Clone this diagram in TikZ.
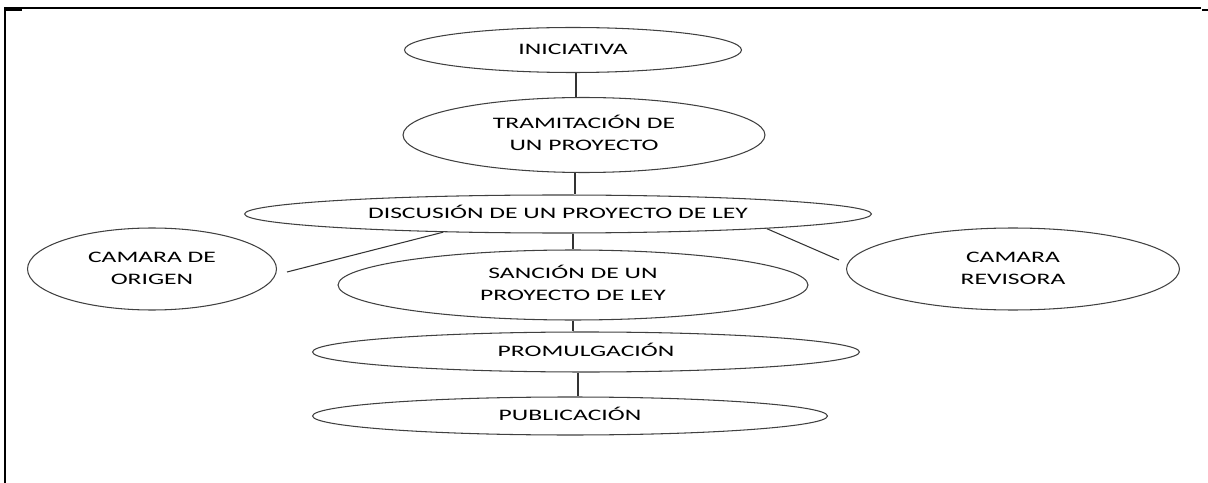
\documentclass[tikz,border=0pt]{standalone}
\usepackage{fontspec}
\usepackage{graphicx}
\setmainfont{Carlito}
\usetikzlibrary{shapes.geometric}

\newcommand{\lbl}[1]{\scalebox{1.6}[1]{\begin{tabular}{@{}c@{}}#1\end{tabular}}}

\begin{document}
\begin{tikzpicture}[x=0.02cm,y=-0.02cm,
  etapa/.style={ellipse,draw=black!75,line width=0.6pt,inner sep=0pt,
    font=\fontsize{9.1pt}{12.5pt}\selectfont},
  enlace/.style={draw=black!80,line width=0.6pt},
  marco/.style={line width=1.2pt}]

\useasboundingbox (0,0) rectangle (1208,483);

% marco de la celda
\draw[marco] (5,483) -- (5,8) -- (1201,8);
\draw[marco] (5,10) -- (22,10);
\draw[marco] (1202,10) -- (1208,10);

% etapas
\node[etapa,minimum width=6.74cm,minimum height=0.9cm] (inic) at (573,50) {\lbl{INICIATIVA}};
\node[etapa,minimum width=7.24cm,minimum height=1.5cm] (tram) at (584,135) {\lbl{TRAMITACIÓN DE\\UN PROYECTO}};
\node[etapa,minimum width=12.54cm,minimum height=0.76cm] (disc) at (558,214) {\lbl{DISCUSIÓN DE UN PROYECTO DE LEY}};
\node[etapa,minimum width=4.98cm,minimum height=1.64cm] (orig) at (152,269) {\lbl{CAMARA DE\\ORIGEN}};
\node[etapa,minimum width=6.66cm,minimum height=1.64cm] (revi) at (1013,269) {\lbl{CAMARA\\REVISORA}};
\node[etapa,minimum width=9.4cm,minimum height=1.4cm] (sanc) at (573,285) {\lbl{SANCIÓN DE UN\\PROYECTO DE LEY}};
\node[etapa,minimum width=10.94cm,minimum height=0.8cm] (prom) at (586,352) {\lbl{PROMULGACIÓN}};
\node[etapa,minimum width=10.3cm,minimum height=0.76cm] (publ) at (570,416) {\lbl{PUBLICACIÓN}};

% extremos libres
\coordinate (origfin) at (287,272);
\coordinate (revifin) at (839,260);

% enlaces
\draw[enlace] ([xshift=0.06cm]inic.south) -- ([xshift=0.06cm]inic.south |- tram.north);
\draw[enlace] ([xshift=-0.18cm]tram.south) -- ([xshift=-0.18cm]tram.south |- disc.north);
\draw[enlace] (sanc.north |- disc.south) -- (sanc.north);
\draw[enlace] (sanc.south) -- (sanc.south |- prom.north);
\draw[enlace] ([xshift=-0.16cm]prom.south) -- ([xshift=-0.16cm]prom.south |- publ.north);
\draw[enlace] (disc.189) -- (origfin);
\draw[enlace] (disc.-4) -- (revifin);

\end{tikzpicture}
\end{document}
